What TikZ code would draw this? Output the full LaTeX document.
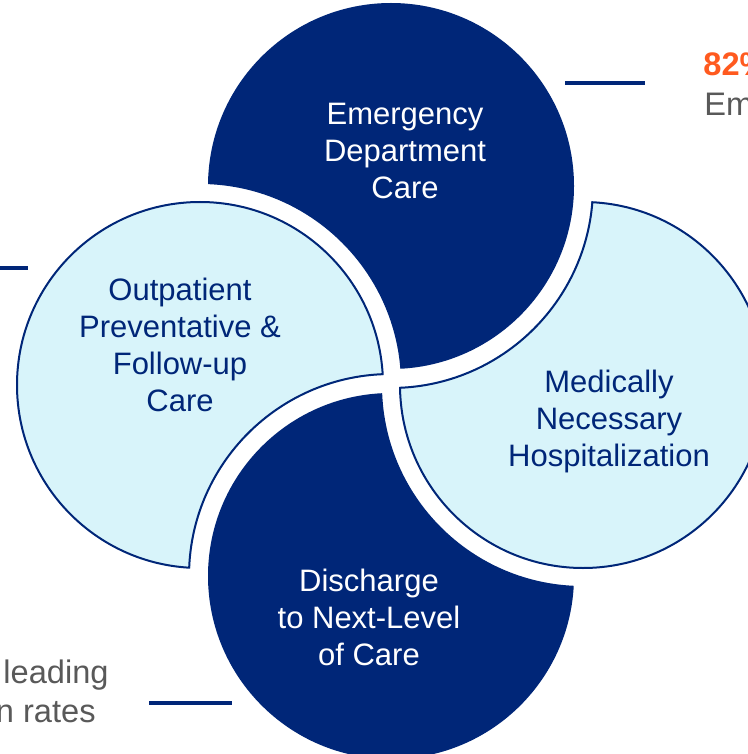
\documentclass[tikz,border=0pt]{standalone}
\usepackage{fontspec}
\setmainfont{Liberation Sans}

\definecolor{navy}{RGB}{0,38,120}
\definecolor{paleblue}{RGB}{216,244,250}
\definecolor{figorange}{RGB}{255,90,31}
\definecolor{notegray}{RGB}{89,89,89}

\begin{document}
\begin{tikzpicture}[x=0.5pt, y=-0.5pt,
	darkpetal/.style={fill=navy},
	lightpetal/.style={fill=paleblue, draw=navy, line width=1pt},
	cutedge/.style={draw=navy, line width=2pt},
	petaltext/.style={align=center, inner sep=0pt, font=\fontsize{15.5}{18.5}\selectfont},
	leader/.style={draw=navy, line width=2pt},
	note/.style={inner sep=0pt, text=notegray, font=\fontsize{16.3}{20}\selectfont}]

	\useasboundingbox (0,0) rectangle (748,754);

	% Circle centres
	\coordinate (ed) at (391,186);
	\coordinate (hosp) at (583,385);
	\coordinate (dis) at (391,576);
	\coordinate (opc) at (200,385);

	% Emergency circle, cut by the outpatient one
	\begin{scope}[even odd rule]
		\clip (-50,-50) rectangle (800,800) (opc) circle (100.5pt);
		\path[darkpetal] (ed) circle (91.5pt);
	\end{scope}

	% Hospitalization circle, cut by the emergency one
	\begin{scope}[even odd rule]
		\clip (-50,-50) rectangle (800,800) (ed) circle (100.5pt);
		\path[lightpetal] (hosp) circle (91.5pt);
		\clip (hosp) circle (91.5pt);
		\path[cutedge] (ed) circle (100.5pt);
	\end{scope}

	% Discharge circle, cut by the hospitalization one
	\begin{scope}[even odd rule]
		\clip (-50,-50) rectangle (800,800) (hosp) circle (100.5pt);
		\path[darkpetal] (dis) circle (91.5pt);
	\end{scope}

	% Outpatient circle, cut by the discharge one
	\begin{scope}[even odd rule]
		\clip (-50,-50) rectangle (800,800) (dis) circle (100.5pt);
		\path[lightpetal] (opc) circle (91.5pt);
		\clip (opc) circle (91.5pt);
		\path[cutedge] (dis) circle (100.5pt);
	\end{scope}

	% Circle labels
	\node[petaltext, text=white] (ed-text) at (405,151) {Emergency\\Department\\Care};
	\node[petaltext, text=navy] (hosp-text) at (609,421) {Medically\\Necessary\\Hospitalization};
	\node[petaltext, text=white] (dis-text) at (369,617) {Discharge\\to Next-Level\\of Care};
	\node[petaltext, text=navy] (opc-text) at (180,345) {Outpatient\\Preventative \&\\Follow-up\\Care};

	% Leader lines
	\coordinate (ed-lead-a) at (565,83);
	\coordinate (ed-lead-b) at (645,83);
	\coordinate (opc-lead-a) at (0,268);
	\coordinate (opc-lead-b) at (28,268);
	\coordinate (dis-lead-a) at (149,703);
	\coordinate (dis-lead-b) at (232,703);
	\draw[leader] (ed-lead-a) -- (ed-lead-b);
	\draw[leader] (opc-lead-a) -- (opc-lead-b);
	\draw[leader] (dis-lead-a) -- (dis-lead-b);

	% Side notes
	\node[note, text=figorange, font=\fontsize{16.3}{20}\selectfont\bfseries, anchor=base west] (ed-figure) at (703,76) {82\%};
	\node[note, anchor=base west] (ed-note) at (704,116) {Em};
	\node[note, anchor=base east] (dis-note-a) at (109,683) {leading};
	\node[note, anchor=base east] (dis-note-b) at (96,722) {n rates};

\end{tikzpicture}
\end{document}
